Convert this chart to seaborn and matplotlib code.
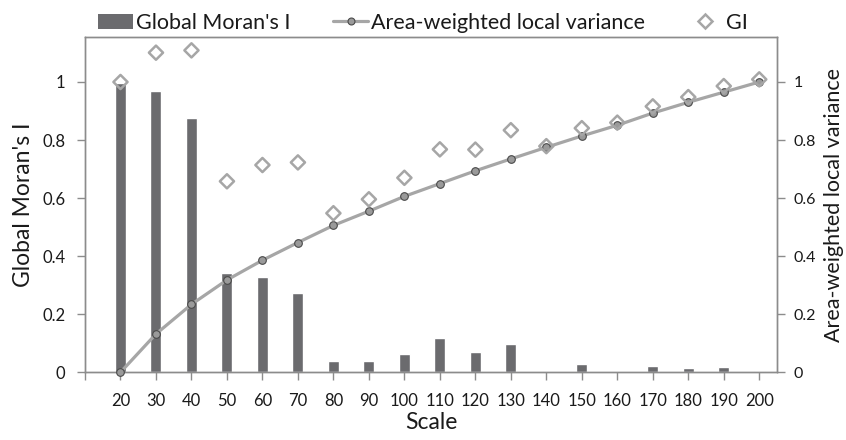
import numpy as np
import pandas as pd
from matplotlib import pyplot as plt
from matplotlib.lines import Line2D
from matplotlib.patches import Patch
import seaborn as sns

# values
scales = [20, 30, 40, 50, 60, 70, 80, 90, 100, 110, 120, 130, 140, 150, 160, 170, 180, 190, 200]
moran = [0.995, 0.969, 0.875, 0.341, 0.327, 0.273, 0.040, 0.039, 0.062, 0.118, 0.071, 0.096,
         0.002, 0.027, 0.002, 0.022, 0.016, 0.019, 0.006]
variance = [0.0, 0.132, 0.234, 0.318, 0.386, 0.447, 0.506, 0.555, 0.606, 0.650, 0.694, 0.735,
            0.775, 0.814, 0.851, 0.893, 0.930, 0.965, 1.0]
gi = [1.0, 1.101, 1.109, 0.658, 0.714, 0.723, 0.548, 0.596, 0.670, 0.768, 0.767, 0.834,
      0.779, 0.841, 0.860, 0.916, 0.948, 0.986, 1.009]
ytick_vals = [0, 0.2, 0.4, 0.6, 0.8, 1.0]
ytick_labels = ["0", "0.2", "0.4", "0.6", "0.8", "1"]

sns.set_style("white")
plt.rcParams["font.family"] = ["Lato", "DejaVu Sans"]

bar_col = "#6b6b6e"
line_col = "#a6a6a6"
spine_col = "#8c8c8c"
text_col = "#1a1a1a"

df = pd.DataFrame({"pos": np.arange(len(scales)), "scale": [str(s) for s in scales],
                   "moran": moran, "variance": variance, "gi": gi})

fig = plt.figure(figsize=(8.46, 4.4), dpi=100)
ax = fig.add_axes([85 / 846, 1 - 372.3 / 440, (777 - 85) / 846, (372.3 - 37) / 440])

sns.barplot(data=df, x="scale", y="moran", ax=ax, color=bar_col, saturation=1, width=0.31)

ax2 = ax.twinx()
sns.lineplot(data=df, x="pos", y="variance", ax=ax2, color=line_col, linewidth=2.3,
             marker="o", markersize=5.5, markerfacecolor="#9a9a9a",
             markeredgecolor="#4a4a4a", markeredgewidth=0.8, clip_on=False, zorder=3)
sns.scatterplot(data=df, x="pos", y="gi", ax=ax2, marker="D", s=52,
                facecolor="none", edgecolor=line_col, linewidth=1.8, zorder=4, clip_on=False)

for a in (ax, ax2):
    a.set_xlim(-1, 18.5)
    a.set_ylim(0, 1.155)
    a.set_yticks(ytick_vals)
    a.set_yticklabels(ytick_labels)
    for s in a.spines.values():
        s.set_color(spine_col)
        s.set_linewidth(1.0)

ax.set_xticks(range(-1, len(scales)))
ax.set_xticklabels([""] + [str(s) for s in scales])
ax.tick_params(axis="x", direction="out", length=6, width=1, color=spine_col,
               labelsize=12, labelcolor=text_col, pad=9, bottom=True)
ax.tick_params(axis="y", direction="out", length=6, width=1, color=spine_col,
               labelsize=12, labelcolor=text_col, pad=8, left=True)
ax2.tick_params(axis="y", direction="out", length=6, width=1, color=spine_col,
                labelsize=11.5, labelcolor=text_col, pad=6, right=True)

ax.set_xlabel("Scale", fontsize=16.5, color=text_col, labelpad=2)
ax.set_ylabel("Global Moran's I", fontsize=16.5, color=text_col, labelpad=6)
ax2.set_ylabel("Area-weighted local variance", fontsize=15.5, color=text_col)
ax2.yaxis.set_label_coords(1.068, 0.5)

handles = [
    Patch(facecolor=bar_col, edgecolor="none"),
    Line2D([], [], color=line_col, linewidth=2.3, marker="o", markersize=5,
           markerfacecolor="#9a9a9a", markeredgecolor="#4a4a4a", markeredgewidth=0.8),
    Line2D([], [], linestyle="none", marker="D", markersize=7.5, markerfacecolor="none",
           markeredgecolor=line_col, markeredgewidth=1.8),
]
labels = ["Global Moran's I", "Area-weighted local variance", "GI"]
fig.legend(handles, labels, loc="upper center", bbox_to_anchor=(0.5, 1.015), ncol=3,
           frameon=False, fontsize=15.5, handlelength=1.6, handletextpad=0.15,
           columnspacing=2.0, labelcolor=text_col)

fig.savefig("out.png", dpi=100)
